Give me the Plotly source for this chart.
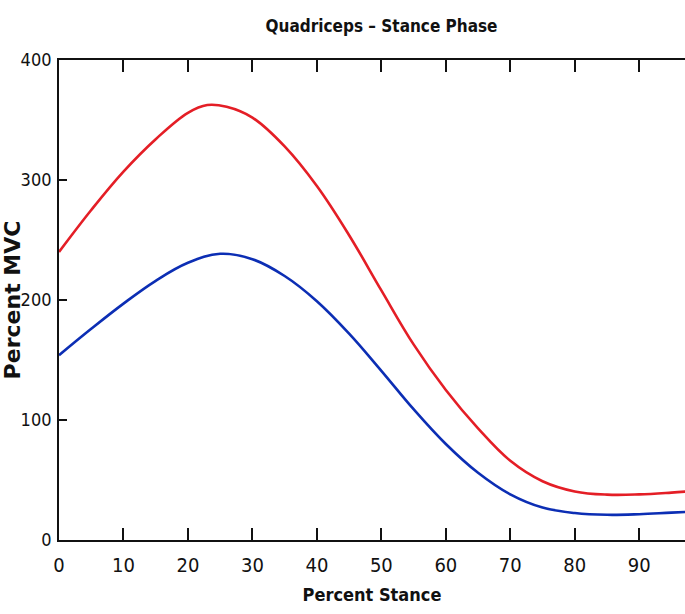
import plotly.graph_objects as go

# Percent stance (x) and percent MVC for two curves
stance_red = [0, 5, 10, 15, 20, 23, 26, 30, 35, 40, 45, 50, 55, 60, 65, 70, 75, 80, 85, 90, 95, 100]
red_mvc = [240, 275, 307, 334, 356, 362.5, 361, 352, 328, 295, 254, 208, 163, 125, 93, 66, 49, 40.5, 37.8, 38, 39.5, 41.5]
stance_blue = [0, 5, 10, 15, 20, 25, 30, 35, 40, 45, 50, 55, 60, 65, 70, 75, 80, 85, 90, 95, 100]
blue_mvc = [154, 176, 197, 216, 231, 238.5, 234, 220, 199, 172, 141, 109, 80, 56, 38, 27, 22.5, 21, 21.5, 22.8, 24]

x_ticks = [0, 10, 20, 30, 40, 50, 60, 70, 80, 90]
y_ticks = [0, 100, 200, 300, 400]

NARROW = "DejaVu Sans Condensed, Liberation Sans Narrow, Arial Narrow, sans-serif"

fig = go.Figure()
fig.add_trace(go.Scatter(x=stance_red, y=red_mvc, mode="lines",
                         line=dict(color="#e41e26", width=2.6, shape="spline", smoothing=1.1),
                         showlegend=False, hoverinfo="skip"))
fig.add_trace(go.Scatter(x=stance_blue, y=blue_mvc, mode="lines",
                         line=dict(color="#0c2eb4", width=2.6, shape="spline", smoothing=1.1),
                         showlegend=False, hoverinfo="skip"))

fig.update_layout(
    width=685, height=614,
    margin=dict(l=59, r=0, t=60, b=74),
    paper_bgcolor="white", plot_bgcolor="white",
    title=dict(text="Quadriceps \u2013 Stance Phase", x=0.557, xanchor="center",
               y=0.957, yanchor="middle",
               font=dict(family=NARROW, size=17, color="#111", weight="bold")),
    xaxis=dict(range=[0, 97.1], tickvals=x_ticks, ticktext=[str(v) for v in x_ticks],
               ticks="inside", ticklen=12, tickwidth=1.5, tickcolor="#111",
               showline=True, linecolor="#111", linewidth=1.8, mirror="ticks",
               showgrid=False, zeroline=False, ticklabelstandoff=6,
               tickfont=dict(family=NARROW, size=20, color="#111"),
               title=dict(text="Percent Stance", standoff=12,
                          font=dict(family=NARROW, size=18, color="#111", weight="bold"))),
    yaxis=dict(range=[0, 400], tickvals=y_ticks, ticktext=[str(v) for v in y_ticks],
               ticks="inside", ticklen=8, tickwidth=1.5, tickcolor="#111",
               showline=True, linecolor="#111", linewidth=1.8, mirror=False,
               showgrid=False, zeroline=False, ticklabelstandoff=2,
               tickfont=dict(family=NARROW, size=18, color="#111"),
               title=dict(text="Percent MVC", standoff=5,
                          font=dict(family="DejaVu Sans, Verdana, sans-serif", size=22, color="#111", weight="bold"))),
)

fig.write_html("out.html")
